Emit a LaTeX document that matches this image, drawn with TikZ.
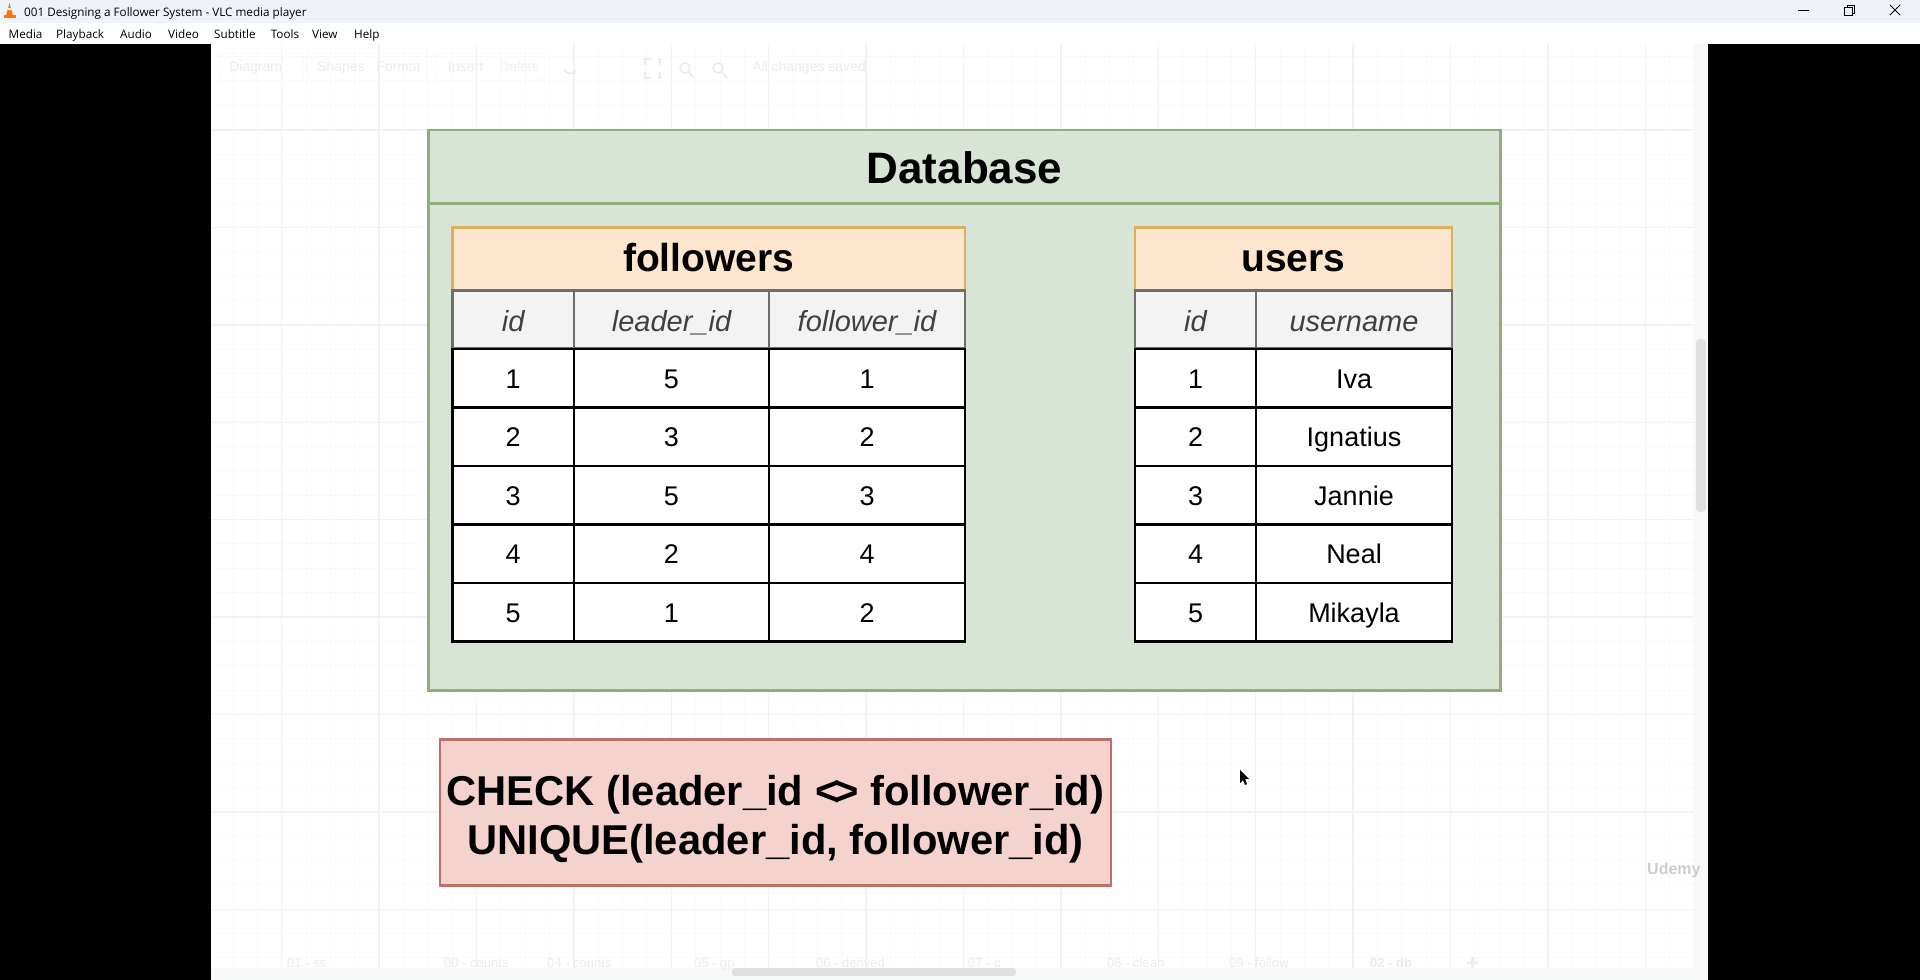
\documentclass[tikz,border=0pt]{standalone}
\usepackage{fontspec}
\setmainfont{Liberation Sans}
\newfontfamily\uifont{Open Sans}
\definecolor{dbfill}{HTML}{D8E4D6}
\definecolor{dbline}{HTML}{8DB078}
\definecolor{headfill}{HTML}{FEE5CD}
\definecolor{headline}{HTML}{DDAE5C}
\definecolor{colfill}{HTML}{F3F3F3}
\definecolor{colline}{HTML}{6E6E6E}
\definecolor{notefill}{HTML}{F4D2CD}
\definecolor{noteline}{HTML}{BE6F68}
\definecolor{titlebar}{HTML}{EFF3F9}
\definecolor{gridmajor}{HTML}{F2F2F2}
\definecolor{gridminor}{HTML}{F9F9F9}
\definecolor{ghost}{HTML}{EBEBEB}
\definecolor{strip}{HTML}{F7F8F8}
\tikzset{
  box/.style={draw,rectangle,outer sep=0pt,inner sep=0pt,line width=2.6pt},
  dbbox/.style={box,draw=dbline,fill=dbfill,minimum width=1072pt},
  headbox/.style={box,draw=headline,fill=headfill,minimum height=63pt,
    text height=24pt,text depth=0pt,font=\fontsize{39}{39}\selectfont\bfseries},
  colbox/.style={box,draw=colline,fill=colfill,minimum height=58.5pt,text=black!75,
    text height=24pt,text depth=0pt,font=\fontsize{29}{29}\selectfont\itshape},
  cellbox/.style={box,draw=black,fill=white,minimum height=58.5pt,
    text height=19.5pt,text depth=0pt,font=\fontsize{27}{27}\selectfont},
  menuitem/.style={anchor=base west,inner sep=0pt,font=\uifont\fontsize{11.7}{12}\selectfont},
  ghosttext/.style={anchor=base west,inner sep=0pt,text=ghost,font=\fontsize{14}{14}\selectfont},
}
\begin{document}
\begin{tikzpicture}[x=1pt,y=-1pt]
\useasboundingbox (0,0) rectangle (1920,980);
\fill[black] (0,0) rectangle (1920,980);

% window bars
\fill[titlebar] (0,0) rectangle (1920,23);
\fill[white] (0,23) rectangle (1920,44);
\fill[orange!90!red] (9.5,3) -- (13,16) -- (6,16) -- cycle;
\fill[orange!90!red] (3.5,15) rectangle (16,18);
\fill[white] (8.3,8) rectangle (11,9.5);
\node[menuitem] (wintitle) at (24,16) {001 Designing a Follower System - VLC media player};
\foreach \name/\xpos in {Media/8.5,Playback/56,Audio/120,Video/168,Subtitle/214,Tools/270.6,View/312,Help/354}
  \node[menuitem] (menu\name) at (\xpos,38) {\name};
\draw[line width=1pt] (1798,10.5) -- (1809,10.5);
\draw[line width=1pt] (1844.5,7.5) rectangle (1852.5,15);
\draw[line width=1pt] (1847,7.5) -- (1847,5.5) -- (1854.5,5.5) -- (1854.5,13) -- (1852.5,13);
\draw[line width=1pt] (1890,5) -- (1900,15) (1900,5) -- (1890,15);

% canvas and grid
\fill[white] (211,44) rectangle (1708,980);
\foreach \k in {-2,...,58}
  \draw[gridminor,line width=1pt] ({281.7+24.35*\k},44) -- ({281.7+24.35*\k},968);
\foreach \k in {-3,...,34}
  \draw[gridminor,line width=1pt] (211,{130+24.35*\k}) -- (1694,{130+24.35*\k});
\foreach \k in {0,...,14}
  \draw[gridmajor,line width=1.4pt] ({281.7+97.4*\k},44) -- ({281.7+97.4*\k},968);
\foreach \k in {0,...,8}
  \draw[gridmajor,line width=1.4pt] (211,{130+97.4*\k}) -- (1694,{130+97.4*\k});
\fill[strip] (1694,44) rectangle (1708,980);
\fill[strip] (211,968) rectangle (1708,980);
\fill[black!12,rounded corners=4pt] (1696,339) rectangle (1706,512);
\fill[black!12,rounded corners=3pt] (732,968) rectangle (1016,976);

% faded toolbar
\draw[gridminor,line width=1pt,rounded corners=3pt] (219,53) rectangle (303,80);
\draw[gridminor,line width=1pt,rounded corners=3pt] (308,53) rectangle (427,80);
\draw[gridminor,line width=1pt,rounded corners=3pt] (435,53) rectangle (545,80);
\node[ghosttext] (tbdiagram) at (229,71) {Diagram};
\node[ghosttext] (tbshapes) at (317,71) {Shapes};
\node[ghosttext] (tbformat) at (376,71) {Format};
\node[ghosttext] (tbinsert) at (448,71) {Insert};
\node[ghosttext,text=gridmajor] (tbdelete) at (499,71) {Delete};
\node[ghosttext] (tbsaved) at (752,71) {All changes saved};
\draw[ghost,line width=1.5pt] (645,65) |- (651,59) (658,59) -| (660,65)
  (660,72) |- (658,78) (651,78) -| (645,72);
\draw[ghost,line width=1.5pt] (685,68) circle (5pt) (689,72) -- (694,78);
\draw[ghost,line width=1.5pt] (718,68) circle (5pt) (722,72) -- (727,78);
\draw[ghost,line width=1.5pt] (564,69) arc (200:320:7pt);
\node[ghosttext,font=\fontsize{13}{13}\selectfont\bfseries] (tbdb) at (1370,967) {02 - db};
\foreach \label/\xpos in {01 - ss/287,00 - counts/444,04 - counts/547,05 - gp/694,06 - derived/816,07 - c/968,08 - clean/1107,09 - follow/1229}
  \node[ghosttext,font=\fontsize{13}{13}\selectfont] (tab\xpos) at (\xpos,967) {\label};
\node[ghosttext,font=\fontsize{22}{22}\selectfont\bfseries] (tabadd) at (1466,970) {+};
\node[ghosttext,text=black!20,font=\fontsize{16}{16}\selectfont\bfseries] (watermark) at (1647,874) {Udemy};

% database frame
\node[dbbox,minimum height=487pt] (dbbody) at (964.5,447) {};
\node[dbbox,minimum height=73pt,font=\fontsize{44}{44}\selectfont\bfseries,
      text height=33.5pt,text depth=0pt] (dbtitle) at (964.5,166.5) {Database};

% followers table
\node[headbox,minimum width=512.5pt] (followers) at (708.75,259) {followers};
\node[colbox,minimum width=121.5pt] (fhid) at (513.25,319.5) {id};
\node[colbox,minimum width=195pt] (fhleader) at (671.5,319.5) {leader\_id};
\node[colbox,minimum width=196pt] (fhfollower) at (867,319.5) {follower\_id};

% users table
\node[headbox,minimum width=317pt] (users) at (1293.5,259) {users};
\node[colbox,minimum width=121pt] (uhid) at (1195.5,319.5) {id};
\node[colbox,minimum width=196pt] (uhname) at (1354,319.5) {username};

% rows of both tables
\foreach \rowid/\leader/\follower/\uname [count=\n from 0] in
    {1/5/1/Iva,2/3/2/Ignatius,3/5/3/Jannie,4/2/4/Neal,5/1/2/Mikayla} {
  \node[cellbox,minimum width=121.5pt] (fid\rowid) at (513.25,{378.25+58.5*\n}) {\rowid};
  \node[cellbox,minimum width=195pt] (flead\rowid) at (671.5,{378.25+58.5*\n}) {\leader};
  \node[cellbox,minimum width=196pt] (ffoll\rowid) at (867,{378.25+58.5*\n}) {\follower};
  \node[cellbox,minimum width=121pt] (uid\rowid) at (1195.5,{378.25+58.5*\n}) {\rowid};
  \node[cellbox,minimum width=196pt] (uname\rowid) at (1354,{378.25+58.5*\n}) {\uname};
}

% constraints
\node[box,draw=noteline,fill=notefill,minimum width=671pt,minimum height=146pt,
      align=center,font=\fontsize{41.7}{49}\selectfont\bfseries] (constraints) at (775.5,812.5)
      {\rule{0pt}{44pt}CHECK (leader\_id <\kern-0.12em> follower\_id)\\UNIQUE(leader\_id, follower\_id)};

% mouse pointer
\fill[black] (1240,770) -- (1240,783) -- (1243,780) -- (1245,785) -- (1247,784) -- (1245,779) -- (1249,779) -- cycle;
\end{tikzpicture}
\end{document}
